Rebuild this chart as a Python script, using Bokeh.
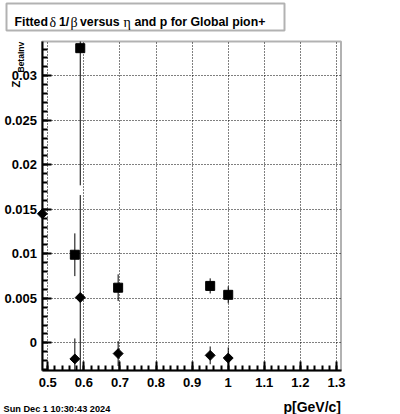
import numpy as np
from bokeh.plotting import figure
from bokeh.models import (Label, BoxAnnotation, SingleIntervalTicker,
                          NumeralTickFormatter, Range1d, Grid)
from bokeh.embed import file_html
from bokeh.resources import INLINE

# ---------------- data ----------------
sq_p = [0.575, 0.59, 0.695, 0.95, 1.0]
sq_z = [0.0099, 0.0331, 0.0062, 0.0064, 0.0054]
sq_err = [0.0024, 0.0154, 0.0015, 0.00085, 0.00095]

dm_p = [0.485, 0.575, 0.59, 0.695, 0.95, 1.0]
dm_z = [0.0145, -0.0018, 0.0051, -0.0012, -0.0014, -0.0017]
dm_err = [0.0004, 0.0023, 0.0115, 0.0014, 0.0010, 0.0012]

x_limits = [0.484, 1.3125]
y_limits = [-0.0031, 0.03385]
x_tick_step = 0.1
y_tick_step = 0.005

title_parts = ["Fitted", "\u03b4", "1/", "\u03b2", "versus", "\u03b7", "and p for Global pion+"]
greek_flags = [False, True, False, True, False, True, False]
x_title = "p[GeV/c]"
y_title_main = "Z"
y_title_sub = "BetaInv"
date_text = "Sun Dec  1 10:30:43 2024"

# ---------------- layout (canvas pixels) ----------------
W, H = 400, 414
L, R, T, B = 41.5, 340.5, 41.0, 370.0      # plot-frame box inside the canvas
SANS = "Liberation Sans"
SERIF = "Liberation Serif"

sx = (x_limits[1] - x_limits[0]) / (R - L)
sy = (y_limits[1] - y_limits[0]) / (B - T)
x_full = (x_limits[0] - L * sx, x_limits[1] + (W - R) * sx)
y_full = (y_limits[0] - (H - B) * sy, y_limits[1] + T * sy)

p = figure(width=W, height=H, output_backend="svg", toolbar_location=None,
           x_range=Range1d(*x_full), y_range=Range1d(*y_full),
           min_border=0, min_border_left=0, min_border_right=0,
           min_border_top=0, min_border_bottom=0)
p.background_fill_color = "white"
p.border_fill_color = "white"
p.outline_line_color = None

xt = SingleIntervalTicker(interval=x_tick_step, num_minor_ticks=5)
yt = SingleIntervalTicker(interval=y_tick_step, num_minor_ticks=5)
xa = p.xaxis[0]
ya = p.yaxis[0]
xa.ticker = xt
ya.ticker = yt
xa.fixed_location = y_limits[0]
ya.fixed_location = x_limits[0]
xa.bounds = tuple(x_limits)
ya.bounds = tuple(y_limits)
xa.formatter = NumeralTickFormatter(format="0.[0]")
ya.formatter = NumeralTickFormatter(format="0.[000]")

for ax in (xa, ya):
    ax.axis_line_color = "black"
    ax.axis_line_width = 2
    ax.major_tick_in = 9
    ax.major_tick_out = 0
    ax.minor_tick_in = 5
    ax.minor_tick_out = 0
    ax.major_tick_line_width = 2
    ax.minor_tick_line_width = 2
    ax.major_tick_line_color = "black"
    ax.minor_tick_line_color = "black"
    ax.major_label_text_font = SANS
    ax.major_label_text_font_style = "bold"
    ax.major_label_text_font_size = "13px"
    ax.major_label_text_color = "black"
xa.major_label_standoff = 7
ya.major_label_standoff = 5

has_cross = "cross_bounds" in Grid.properties()
xg = p.xgrid[0]
yg = p.ygrid[0]
xg.ticker = xt
yg.ticker = yt
for g in (xg, yg):
    g.grid_line_color = "black"
    g.grid_line_dash = "1 2"
    g.grid_line_width = 1
if has_cross:
    xg.bounds = tuple(x_limits)
    yg.bounds = tuple(y_limits)
    xg.cross_bounds = tuple(y_limits)
    yg.cross_bounds = tuple(x_limits)
else:
    xg.visible = False
    yg.visible = False
    gx = [v for v in xt.interval * np.arange(0, 20) if x_limits[0] < v < x_limits[1]]
    gy = [v for v in yt.interval * np.arange(0, 10) if y_limits[0] < v < y_limits[1]]
    p.segment(x0=gx, y0=[y_limits[0]] * len(gx), x1=gx, y1=[y_limits[1]] * len(gx),
              line_color="black", line_dash="1 2", line_width=1)
    p.segment(x0=[x_limits[0]] * len(gy), y0=gy, x1=[x_limits[1]] * len(gy), y1=gy,
              line_color="black", line_dash="1 2", line_width=1)

# ---------------- plot frame ----------------
p.add_layout(BoxAnnotation(left=x_limits[0], right=x_limits[1],
                           bottom=y_limits[0], top=y_limits[1],
                           fill_alpha=0, line_color="black", line_width=2,
                           level="underlay"))

# ---------------- error bars and markers ----------------
sq_lo = [max(z - e, y_limits[0]) for z, e in zip(sq_z, sq_err)]
sq_hi = [min(z + e, y_limits[1]) for z, e in zip(sq_z, sq_err)]
dm_lo = [max(z - e, y_limits[0]) for z, e in zip(dm_z, dm_err)]
dm_hi = [min(z + e, y_limits[1]) for z, e in zip(dm_z, dm_err)]

p.segment(x0=sq_p, y0=sq_lo, x1=sq_p, y1=sq_hi, line_color="black", line_width=1)
p.segment(x0=dm_p, y0=dm_lo, x1=dm_p, y1=dm_hi, line_color="black", line_width=1)
p.scatter(x=sq_p, y=sq_z, marker="square", size=9, fill_color="black", line_color="black")
p.scatter(x=dm_p, y=dm_z, marker="square", angle=np.pi / 4, size=7,
          fill_color="black", line_color="black")

# ---------------- title box ----------------
p.add_layout(BoxAnnotation(left=6, right=284, top=3, bottom=30,
                           left_units="canvas", right_units="canvas",
                           top_units="canvas", bottom_units="canvas",
                           fill_color="white", fill_alpha=1.0,
                           line_color="black", line_width=2))

title_x = [14, 49, 58.5, 70, 79.5, 123, 134]
for txt, gk, tx in zip(title_parts, greek_flags, title_x):
    p.add_layout(Label(x=tx, y=21.7, x_units="canvas", y_units="canvas", text=txt,
                       text_font=SERIF if gk else SANS,
                       text_font_style="normal" if gk else "bold",
                       text_font_size="14px" if gk else "12.3px",
                       text_color="black", text_baseline="alphabetic",
                       text_align="left"))

# ---------------- axis titles & date ----------------
p.add_layout(Label(x=R, y=406, x_units="canvas", y_units="canvas", text=x_title,
                   text_font=SANS, text_font_style="bold", text_font_size="14px",
                   text_color="black", text_align="right", text_baseline="alphabetic"))
p.add_layout(Label(x=15.7, y=87, x_units="canvas", y_units="canvas", text=y_title_main,
                   angle=np.pi / 2, text_font=SANS, text_font_style="bold",
                   text_font_size="11px", text_color="black",
                   text_align="left", text_baseline="alphabetic"))
p.add_layout(Label(x=20.7, y=72, x_units="canvas", y_units="canvas", text=y_title_sub,
                   angle=np.pi / 2, text_font=SANS, text_font_style="bold",
                   text_font_size="8.5px", text_color="black",
                   text_align="left", text_baseline="alphabetic"))
p.add_layout(Label(x=3, y=408, x_units="canvas", y_units="canvas", text=date_text,
                   text_font=SANS, text_font_style="bold", text_font_size="9.2px",
                   text_color="black", text_align="left", text_baseline="alphabetic"))

open("out.html", "w").write(file_html(p, INLINE))
